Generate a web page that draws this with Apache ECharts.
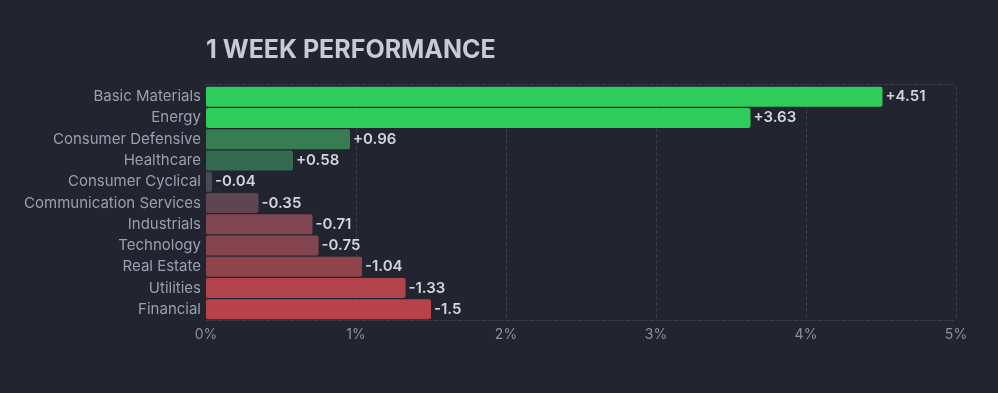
<!DOCTYPE html>
<html>
<head>
<meta charset="utf-8">
<script src="https://cdn.jsdelivr.net/npm/echarts@6/dist/echarts.min.js"></script>
<style>
html,body{margin:0;padding:0;background:#22252f;}
#c{width:998px;height:393px;}
</style>
</head>
<body>
<div id="c"></div>
<script>
const categories = ["Basic Materials","Energy","Consumer Defensive","Healthcare","Consumer Cyclical","Communication Services","Industrials","Technology","Real Estate","Utilities","Financial"];
const changes = [4.51, 3.63, 0.96, 0.58, -0.04, -0.35, -0.71, -0.75, -1.04, -1.33, -1.5];
const xTicks = [0, 1, 2, 3, 4, 5];
const barColors = ["#2ecc5b","#2ecc5b","#367d52","#366a50","#474a58","#5f4452","#804652","#844550","#8f434b","#b2434a","#b8424a"];

const chart = echarts.init(document.getElementById('c'));
const FONT = 'Inter';
chart.setOption({
  backgroundColor: '#22252f',
  animation: false,
  title: {
    text: '1 WEEK PERFORMANCE',
    left: 201, top: 33,
    textStyle: {color: '#c8cad6', fontSize: 25, fontWeight: 'bold', fontFamily: FONT}
  },
  grid: {left: 206, right: 42, top: 86, bottom: 73, containLabel: false},
  xAxis: [{
    type: 'value', min: xTicks[0], max: xTicks[xTicks.length-1], interval: 1,
    axisLine: {show: true, lineStyle: {color: '#3a3e4c', type: 'dashed'}},
    axisTick: {show: false},
    axisLabel: {color: '#8b90a3', fontSize: 14, fontFamily: FONT, margin: 8, formatter: v => v + '%'},
    splitLine: {show: true, lineStyle: {color: '#3a3e4c', type: 'dashed'}}
  }, {
    type: 'value', position: 'top', offset: 2, min: xTicks[0], max: xTicks[xTicks.length-1], interval: 1,
    axisLine: {show: true, lineStyle: {color: '#3a3e4c', type: 'dashed'}},
    axisTick: {show: false}, axisLabel: {show: false}, splitLine: {show: false}
  }],
  yAxis: {
    type: 'category', data: categories, inverse: true,
    axisLine: {show: false}, axisTick: {show: false},
    axisLabel: {color: '#9a9fb3', fontSize: 15, fontFamily: FONT, margin: 5},
    splitLine: {show: false}
  },
  series: [{
    type: 'bar',
    data: changes.map((v, i) => ({value: Math.abs(v), itemStyle: {color: barColors[i]}})),
    barCategoryGap: '6%',
    itemStyle: {borderRadius: 2},
    label: {
      show: true, position: 'right', distance: 3,
      color: '#d2d4de', fontSize: 15, fontWeight: 600, fontFamily: FONT,
      formatter: p => (changes[p.dataIndex] > 0 ? '+' : '') + changes[p.dataIndex]
    }
  }]
});
</script>
</body>
</html>
